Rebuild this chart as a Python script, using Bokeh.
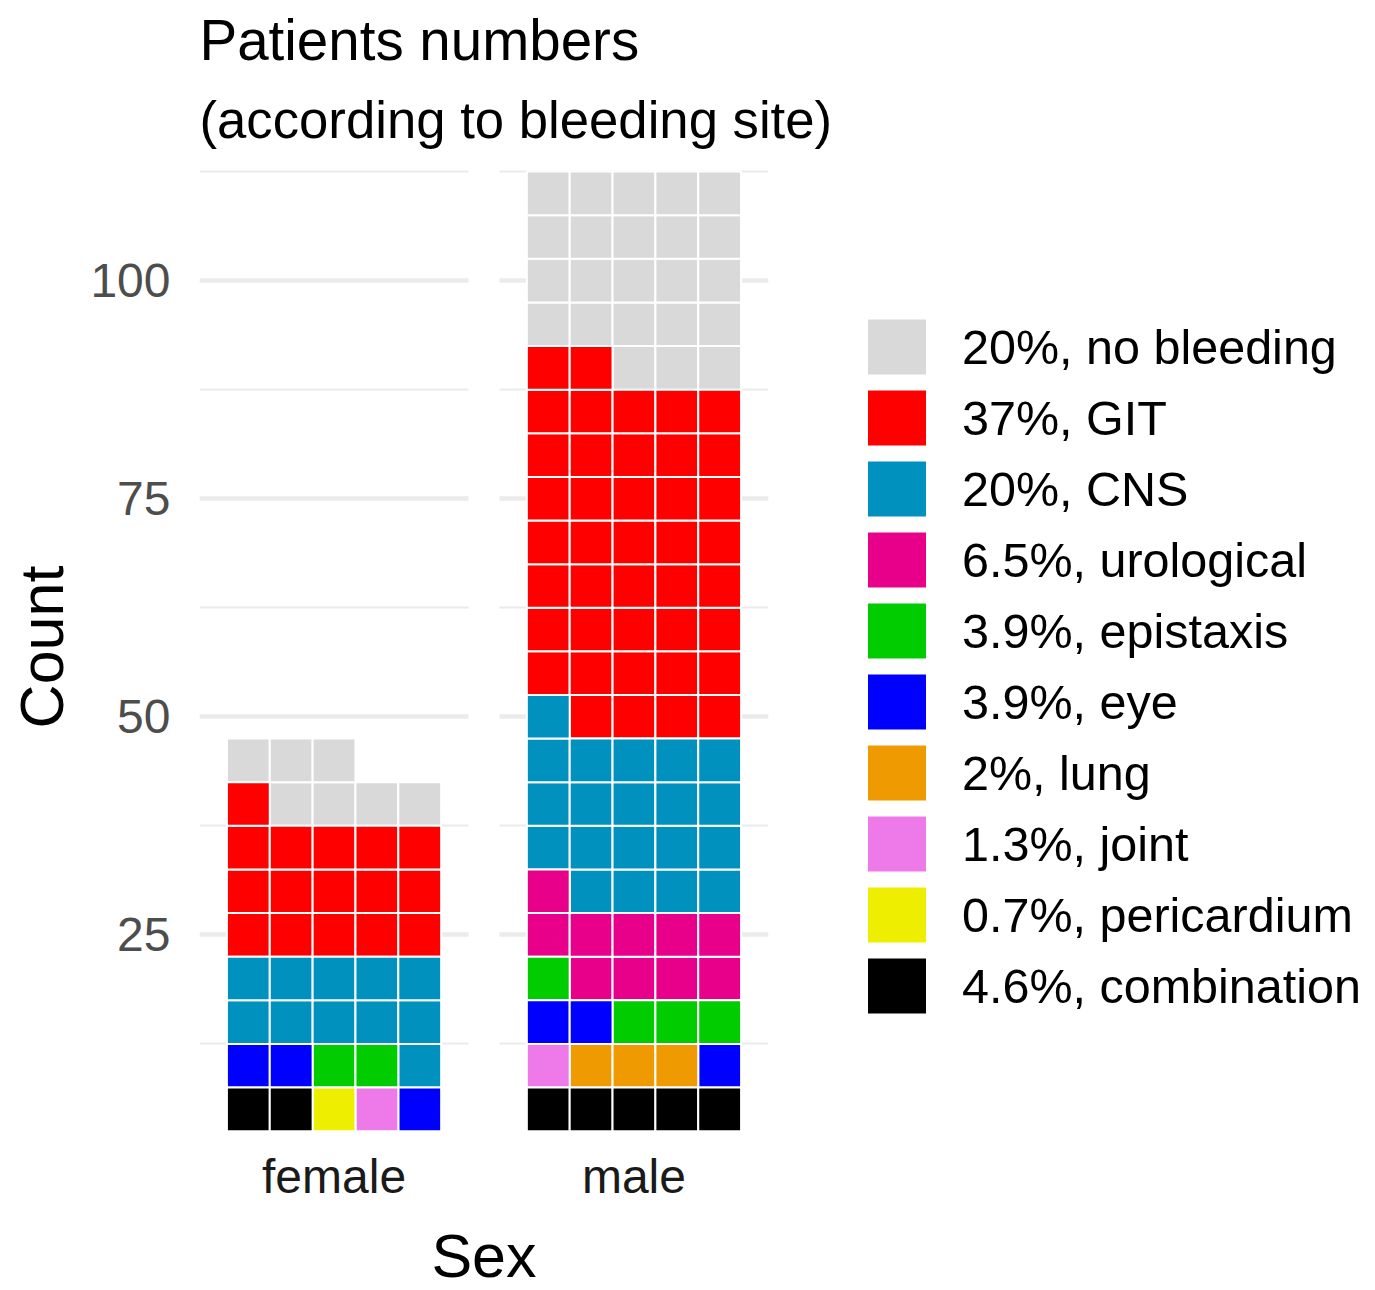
import numpy as np
from bokeh.plotting import figure
from bokeh.models import Range1d, FixedTicker, Legend, LegendItem, Title, ColumnDataSource
from bokeh.embed import file_html
from bokeh.resources import INLINE

# ---- data ----
categories = ["no bleeding", "GIT", "CNS", "urological", "epistaxis", "eye",
              "lung", "joint", "pericardium", "combination"]
pct_labels = ["20%", "37%", "20%", "6.5%", "3.9%", "3.9%", "2%", "1.3%", "0.7%", "4.6%"]
female_counts = [7, 16, 11, 0, 2, 3, 0, 1, 1, 2]
male_counts = [23, 41, 20, 10, 4, 3, 3, 1, 0, 5]
colors = ["#D9D9D9", "#FF0000", "#0091BF", "#E8008A", "#00CC00", "#0000FF",
          "#EE9A00", "#EE7AE9", "#EEEE00", "#000000"]
sexes = ["female", "male"]
y_ticks = [25, 50, 75, 100]

# ---- layout constants ----
FONT = "Liberation Sans"
n_cols = 5
row_units = 5            # each row of tiles covers 5 counts on the y axis
facet_offset = {"female": 0, "male": 7}
panel_pad = 0.64
counts = {"female": female_counts, "male": male_counts}
px_per_col = 42.86
px_per_unit = 8.726

# build waffle tiles (filled row by row from the bottom, last category first)
tiles = {c: dict(x=[], y=[]) for c in categories}
for sex in sexes:
    seq = []
    for cat, n in zip(reversed(categories), reversed(counts[sex])):
        seq += [cat] * n
    for i, cat in enumerate(seq):
        tiles[cat]["x"].append(facet_offset[sex] + i % n_cols + 1)
        tiles[cat]["y"].append(row_units * (i // n_cols + 1))

x0 = 0.5 - panel_pad
x1 = facet_offset["male"] + n_cols + 0.5 + panel_pad
y0, y1 = 2.0, 114.0

p = figure(frame_width=int(round((x1 - x0) * px_per_col)),
           frame_height=int(round((y1 - y0) * px_per_unit)),
           x_range=Range1d(x0, x1), y_range=Range1d(y0, y1),
           output_backend="svg", toolbar_location=None,
           min_border_left=199, min_border_right=0,
           min_border_top=151, min_border_bottom=0)
p.outline_line_color = None
p.background_fill_color = "white"

# grid
p.xgrid.visible = False
p.ygrid.ticker = FixedTicker(ticks=y_ticks,
                             minor_ticks=[t - 12.5 for t in y_ticks] + [y_ticks[-1] + 12.5])
p.ygrid.grid_line_color = "#EBEBEB"
p.ygrid.grid_line_width = 4.5
p.ygrid.minor_grid_line_color = "#EBEBEB"
p.ygrid.minor_grid_line_width = 2

# gap between the two facet panels
p.quad(left=[n_cols + 0.5 + panel_pad], right=[facet_offset["male"] + 0.5 - panel_pad],
       bottom=[y0], top=[y1], fill_color="white", line_color=None)

# tiles
items = []
for cat, col, pct in zip(categories, colors, pct_labels):
    src = ColumnDataSource(tiles[cat])
    r = p.rect(x="x", y="y", width=1, height=row_units, source=src,
               fill_color=col, line_color="white", line_width=2)
    items.append(LegendItem(label=f"{pct}, {cat}", renderers=[r]))

# axes
p.yaxis.ticker = FixedTicker(ticks=y_ticks)
p.yaxis.axis_label = "Count"
p.xaxis.ticker = FixedTicker(ticks=[facet_offset[s] + (n_cols + 1) / 2 for s in sexes])
p.xaxis.major_label_overrides = {facet_offset[s] + (n_cols + 1) / 2: s for s in sexes}
p.xaxis.axis_label = "Sex"
for ax in (p.xaxis, p.yaxis):
    ax.axis_line_color = None
    ax.major_tick_line_color = None
    ax.minor_tick_line_color = None
    ax.major_label_text_font = FONT
    ax.major_label_text_font_size = "48px"
    ax.axis_label_text_font = FONT
    ax.axis_label_text_font_size = "61px"
    ax.axis_label_text_font_style = "normal"
    ax.axis_label_text_color = "#000000"
p.yaxis.major_label_text_color = "#4D4D4D"
p.xaxis.major_label_text_color = "#1A1A1A"
p.yaxis.major_label_standoff = 23
p.yaxis.axis_label_standoff = 11
p.xaxis.major_label_standoff = 8
p.xaxis.axis_label_standoff = 16

# titles
p.title.text = "Patients numbers"
p.title.text_font = FONT
p.title.text_font_size = "56.5px"
p.title.text_font_style = "normal"
p.title.text_color = "#000000"
p.title.align = "left"
p.title.standoff = 13
p.add_layout(Title(text="(according to bleeding site)", text_font=FONT,
                   text_font_size="52.7px", text_font_style="normal",
                   text_color="#000000", align="left", standoff=19), "above")

# legend
legend = Legend(items=items, location=(91, 114), glyph_width=75, glyph_height=71,
                spacing=0, padding=0, margin=0, label_standoff=28,
                label_text_font=FONT, label_text_font_size="48.5px",
                label_text_color="#000000",
                border_line_color=None, background_fill_alpha=0)
p.add_layout(legend, "right")

open("out.html", "w").write(file_html(p, INLINE))
